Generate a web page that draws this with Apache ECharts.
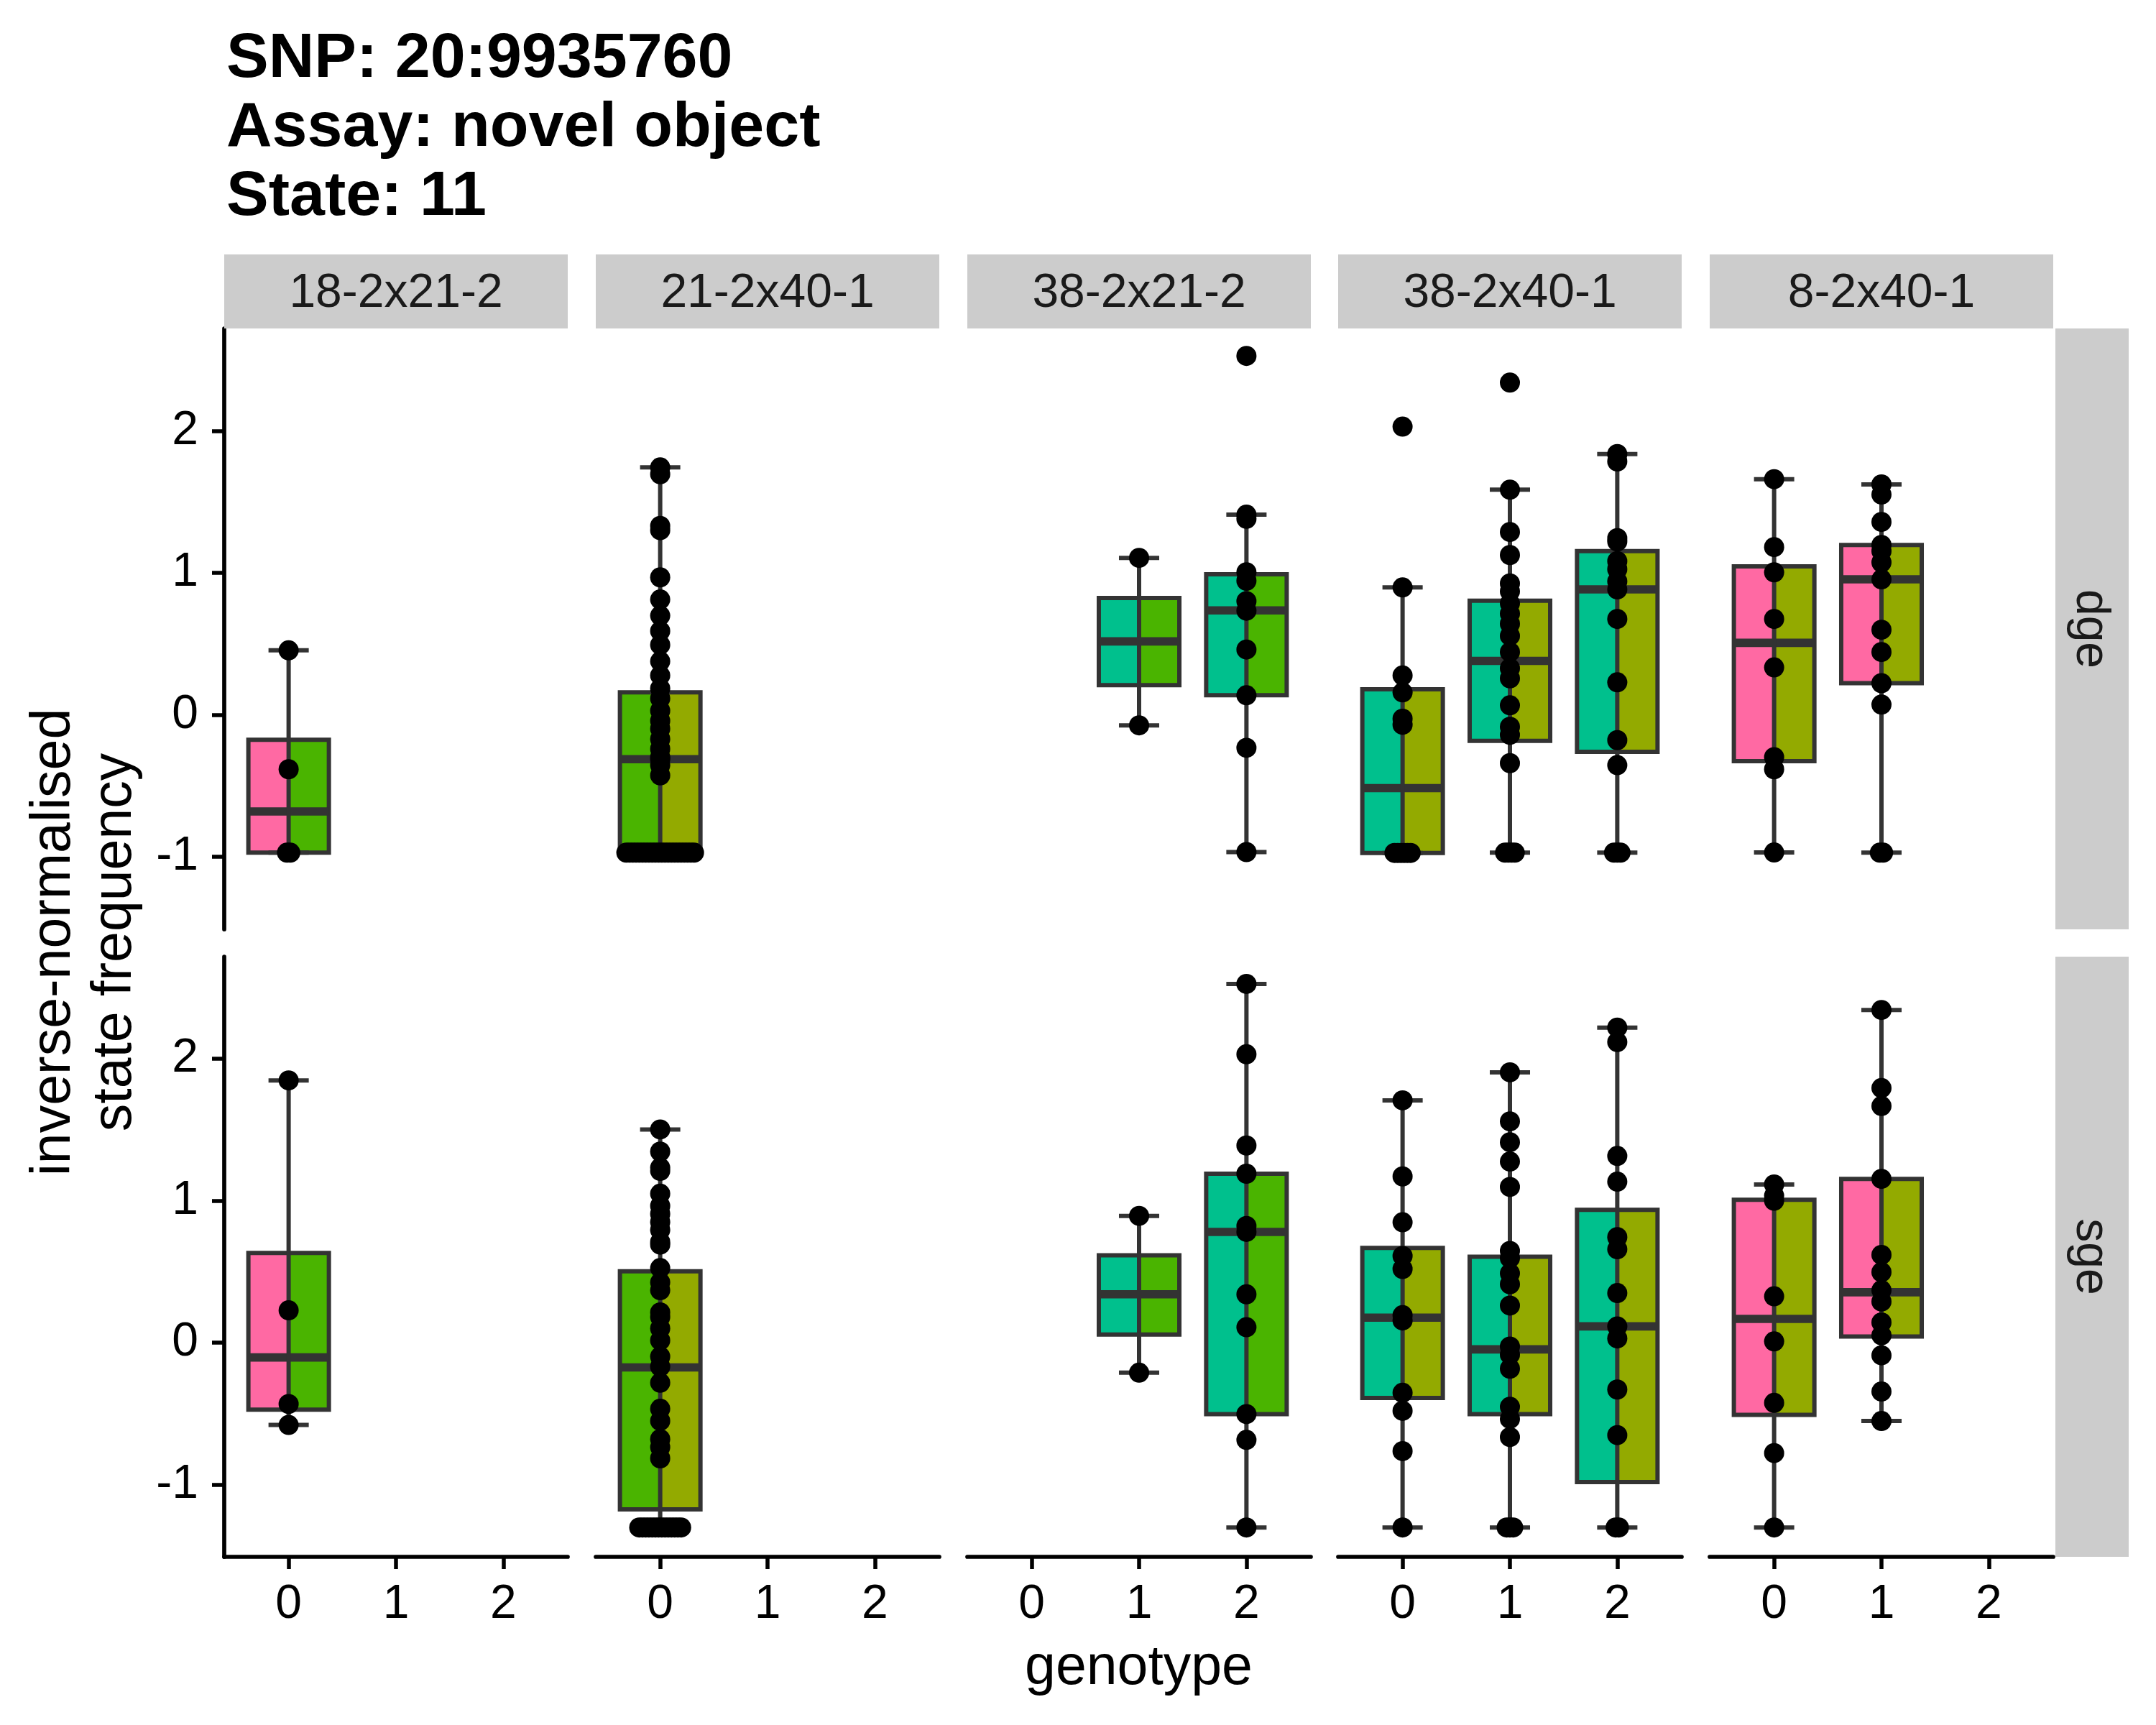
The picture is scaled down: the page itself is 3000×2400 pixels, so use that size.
<!DOCTYPE html>
<html>
<head>
<meta charset="utf-8">
<script src="https://cdn.jsdelivr.net/npm/echarts@6/dist/echarts.min.js"></script>
<style>
html,body{margin:0;padding:0;background:#ffffff;}
#chart{width:3000px;height:2400px;}
</style>
</head>
<body>
<div id="chart"></div>
<script>
// ---------------- data ----------------
const titleLines = ['SNP: 20:9935760', 'Assay: novel object', 'State: 11'];
const xTitle = 'genotype';
const yTitleLines = ['inverse-normalised', 'state frequency'];
const strains = ['18-2x21-2', '21-2x40-1', '38-2x21-2', '38-2x40-1', '8-2x40-1'];
const strainParents = [['18-2', '21-2'], ['21-2', '40-1'], ['38-2', '21-2'], ['38-2', '40-1'], ['8-2', '40-1']];
const assays = ['dge', 'sge'];
const genotypeTicks = [0, 1, 2];
const yTickValues = [-1, 0, 1, 2];
const yRange = [-1.51, 2.72];
const xRange = [-0.6, 2.6];

// box statistics: [genotype, lower whisker, Q1, median, Q3, upper whisker]
const dgeBoxes = [
  [[0, -0.97, -0.97, -0.68, -0.175, 0.454]],
  [[0, -0.97, -0.97, -0.312, 0.158, 1.742]],
  [[1, -0.074, 0.209, 0.517, 0.823, 1.105], [2, -0.966, 0.138, 0.735, 0.99, 1.409]],
  [[0, -0.972, -0.972, -0.516, 0.18, 0.897], [1, -0.97, -0.183, 0.38, 0.803, 1.585], [2, -0.97, -0.26, 0.883, 1.153, 1.836]],
  [[0, -0.969, -0.326, 0.507, 1.045, 1.659], [1, -0.97, 0.223, 0.954, 1.196, 1.622]]
];
const sgeBoxes = [
  [[0, -0.581, -0.473, -0.105, 0.632, 1.848]],
  [[0, -1.303, -1.176, -0.175, 0.502, 1.502]],
  [[1, -0.212, 0.057, 0.34, 0.615, 0.893], [2, -1.303, -0.504, 0.78, 1.19, 2.528]],
  [[0, -1.303, -0.391, 0.176, 0.667, 1.707], [1, -1.303, -0.504, -0.048, 0.605, 1.905], [2, -1.303, -0.983, 0.114, 0.935, 2.22]],
  [[0, -1.303, -0.51, 0.167, 1.007, 1.114], [1, -0.553, 0.043, 0.355, 1.154, 2.344]]
];

// observed points: per strain, list of [genotype, values]
const dgePoints = [
  [[0, [0.454, -0.383, -0.97, -0.97]]],
  [[0, [1.742, 1.694, 1.33, 1.30, 0.968, 0.812, 0.698, 0.59, 0.493, 0.377, 0.277, 0.186, 0.115, 0.030,
        -0.041, -0.098, -0.17, -0.24, -0.298, -0.312, -0.354, -0.426,
        -0.97, -0.97, -0.97, -0.97, -0.97, -0.97, -0.97, -0.97, -0.97, -0.97, -0.97,
        -0.97, -0.97, -0.97, -0.97, -0.97, -0.97, -0.97, -0.97, -0.97, -0.97, -0.97]]],
  [[1, [1.105, -0.074]],
   [2, [2.527, 1.409, 1.38, 1.004, 0.944, 0.80, 0.733, 0.46, 0.138, -0.232, -0.966]]],
  [[0, [2.029, 0.897, 0.277, 0.158, -0.027, -0.07, -0.972, -0.972, -0.972, -0.972, -0.972, -0.972]],
   [1, [2.339, 1.585, 1.287, 1.125, 0.925, 0.869, 0.784, 0.712, 0.641, 0.556, 0.442, 0.328, 0.257, 0.067,
        -0.084, -0.141, -0.34, -0.97, -0.97, -0.97, -0.97]],
   [2, [1.836, 1.784, 1.244, 1.22, 1.082, 1.025, 0.94, 0.883, 0.675, 0.229, -0.178, -0.354, -0.97, -0.97, -0.97]]],
  [[0, [1.659, 1.181, 1.003, 0.675, 0.334, -0.298, -0.383, -0.969]],
   [1, [1.622, 1.551, 1.358, 1.196, 1.153, 1.073, 0.954, 0.599, 0.442, 0.223, 0.072, -0.97, -0.97]]]
];
const sgePoints = [
  [[0, [1.848, 0.227, -0.433, -0.581]]],
  [[0, [1.502, 1.346, 1.233, 1.21, 1.049, 0.964, 0.907, 0.85, 0.794, 0.709, 0.69, 0.525, 0.425, 0.369,
        0.213, 0.18, 0.10, 0.015, -0.099, -0.17, -0.283, -0.467, -0.552, -0.68, -0.737, -0.816,
        -1.303, -1.303, -1.303, -1.303, -1.303, -1.303, -1.303, -1.303, -1.303, -1.303, -1.303,
        -1.303, -1.303, -1.303]]],
  [[1, [0.893, -0.212]],
   [2, [2.528, 2.032, 1.389, 1.19, 0.822, 0.78, 0.34, 0.108, -0.504, -0.686, -1.303]]],
  [[0, [1.707, 1.171, 0.848, 0.61, 0.519, 0.193, 0.156, -0.354, -0.481, -0.765, -1.303]],
   [1, [1.905, 1.559, 1.412, 1.276, 1.097, 0.646, 0.595, 0.488, 0.411, 0.261, -0.028, -0.085, -0.184,
        -0.453, -0.538, -0.666, -1.303, -1.303, -1.303]],
   [2, [2.22, 2.118, 1.315, 1.134, 0.743, 0.658, 0.349, 0.114, 0.029, -0.331, -0.652, -1.303, -1.303]]],
  [[0, [1.114, 1.035, 1.0, 0.326, 0.008, -0.425, -0.779, -1.303]],
   [1, [2.344, 1.794, 1.667, 1.154, 0.618, 0.496, 0.369, 0.289, 0.142, 0.051, -0.09, -0.345, -0.553]]]
];

// ---------------- styles / layout ----------------
const parentColor = {'18-2': '#FF69A3', '8-2': '#FF69A3', '21-2': '#4AB400', '38-2': '#00C08D', '40-1': '#93AA00'};
const FONT = '"Liberation Sans", Arial, Helvetica, sans-serif';
const colLeft = [312, 829, 1346, 1862, 2379];
const panelW = 478;
const rowTop = [457, 1331];
const rowH = [836, 835];
const stripTop = 354, stripH = 103;
const rStripX = 2860, rStripW = 102;
const BOX_W = 0.75, CAP_W = 0.375, CLUSTER_STEP = 0.015;
const LINE = '#333333';

function spread(genotype, values) {
  const counts = {};
  values.forEach(v => { counts[v] = (counts[v] || 0) + 1; });
  const seen = {};
  return values.map(v => {
    const n = counts[v];
    const k = seen[v] || 0;
    seen[v] = k + 1;
    const w = CLUSTER_STEP * (n - 1);
    const off = n > 1 ? -w + 2 * w * k / (n - 1) : 0;
    return [genotype + off, v];
  });
}

function makeRender(colA, colB) {
  return function (params, api) {
    const x = api.value(0);
    const pLo = api.coord([x, api.value(1)]);
    const pQ1 = api.coord([x, api.value(2)]);
    const pMed = api.coord([x, api.value(3)]);
    const pQ3 = api.coord([x, api.value(4)]);
    const pHi = api.coord([x, api.value(5)]);
    const bw = api.size([BOX_W, 0])[0];
    const cw = api.size([CAP_W, 0])[0];
    const cx = pMed[0];
    const left = cx - bw / 2;
    const h = pQ1[1] - pQ3[1];
    return {
      type: 'group',
      children: [
        {type: 'rect', shape: {x: left, y: pQ3[1], width: bw / 2, height: h}, style: {fill: colA}},
        {type: 'rect', shape: {x: cx, y: pQ3[1], width: bw / 2, height: h}, style: {fill: colB}},
        {type: 'rect', shape: {x: left, y: pQ3[1], width: bw, height: h}, style: {fill: 'none', stroke: LINE, lineWidth: 6}},
        {type: 'line', shape: {x1: left, y1: pMed[1], x2: left + bw, y2: pMed[1]}, style: {stroke: LINE, lineWidth: 11.6}},
        {type: 'line', shape: {x1: cx, y1: pLo[1], x2: cx, y2: pHi[1]}, style: {stroke: LINE, lineWidth: 6}},
        {type: 'line', shape: {x1: cx - cw / 2, y1: pHi[1], x2: cx + cw / 2, y2: pHi[1]}, style: {stroke: LINE, lineWidth: 6}},
        {type: 'line', shape: {x1: cx - cw / 2, y1: pLo[1], x2: cx + cw / 2, y2: pLo[1]}, style: {stroke: LINE, lineWidth: 6}}
      ]
    };
  };
}

const grids = [], xAxes = [], yAxes = [], series = [], graphics = [];
const boxSets = [dgeBoxes, sgeBoxes];
const pointSets = [dgePoints, sgePoints];

for (let r = 0; r < 2; r++) {
  for (let c = 0; c < 5; c++) {
    const gi = r * 5 + c;
    grids.push({left: colLeft[c], top: rowTop[r], width: panelW, height: rowH[r], containLabel: false});
    const showX = r === 1;
    xAxes.push({
      gridIndex: gi, type: 'value', min: xRange[0], max: xRange[1],
      axisLine: {show: showX, onZero: false, lineStyle: {color: '#000', width: 5.7}},
      axisTick: {show: showX, customValues: genotypeTicks, length: 17, lineStyle: {color: '#000', width: 5.5}},
      axisLabel: {show: showX, customValues: genotypeTicks, fontSize: 66, color: '#000', fontFamily: FONT, margin: 34},
      splitLine: {show: false}
    });
    const showY = c === 0;
    yAxes.push({
      gridIndex: gi, type: 'value', min: yRange[0], max: yRange[1],
      axisLine: {show: showY, onZero: false, lineStyle: {color: '#000', width: 5.7}},
      axisTick: {show: showY, customValues: yTickValues, length: 17, lineStyle: {color: '#000', width: 5.5}},
      axisLabel: {show: showY, customValues: yTickValues, fontSize: 66, color: '#000', fontFamily: FONT, margin: 36},
      splitLine: {show: false}
    });
    const cols = strainParents[c].map(p => parentColor[p]);
    series.push({
      type: 'custom', xAxisIndex: gi, yAxisIndex: gi, z: 2,
      renderItem: makeRender(cols[0], cols[1]),
      data: boxSets[r][c], silent: true
    });
    let pts = [];
    pointSets[r][c].forEach(([g, vals]) => { pts = pts.concat(spread(g, vals)); });
    series.push({
      type: 'scatter', xAxisIndex: gi, yAxisIndex: gi, z: 5,
      symbol: 'circle', symbolSize: 28, itemStyle: {color: '#000', opacity: 1},
      data: pts, silent: true
    });
  }
}

// strips (top)
strains.forEach((s, c) => {
  graphics.push({type: 'rect', shape: {x: colLeft[c], y: stripTop, width: panelW, height: stripH}, style: {fill: '#CCCCCC'}, z: 1});
  graphics.push({type: 'text', x: colLeft[c] + panelW / 2, y: 409, z: 2,
    style: {text: s, fontSize: 66, fontFamily: FONT, fill: '#1A1A1A', align: 'center', verticalAlign: 'middle'}});
});
// strips (right)
assays.forEach((a, r) => {
  graphics.push({type: 'rect', shape: {x: rStripX, y: rowTop[r], width: rStripW, height: rowH[r]}, style: {fill: '#CCCCCC'}, z: 1});
  graphics.push({type: 'text', x: 2908, y: rowTop[r] + rowH[r] / 2, rotation: -Math.PI / 2, z: 2,
    style: {text: a, fontSize: 66, fontFamily: FONT, fill: '#1A1A1A', align: 'center', verticalAlign: 'middle'}});
});
// axis titles
graphics.push({type: 'text', x: (colLeft[0] + colLeft[4] + panelW) / 2, y: 2322, z: 2,
  style: {text: xTitle, fontSize: 77, fontFamily: FONT, fill: '#000', align: 'center', verticalAlign: 'middle'}});
graphics.push({type: 'text', x: 118, y: 1311, rotation: Math.PI / 2, z: 2,
  style: {text: yTitleLines.join('\n'), fontSize: 77, lineHeight: 85, fontFamily: FONT, fill: '#000', align: 'center', verticalAlign: 'middle'}});

const chart = echarts.init(document.getElementById('chart'), null, {renderer: 'canvas'});
chart.setOption({
  backgroundColor: '#ffffff',
  animation: false,
  title: {
    text: titleLines.join('\n'), left: 310, top: 30,
    textStyle: {fontSize: 88, fontWeight: 'bold', lineHeight: 96, color: '#000', fontFamily: FONT}
  },
  grid: grids,
  xAxis: xAxes,
  yAxis: yAxes,
  series: series,
  graphic: graphics
});
</script>
</body>
</html>
